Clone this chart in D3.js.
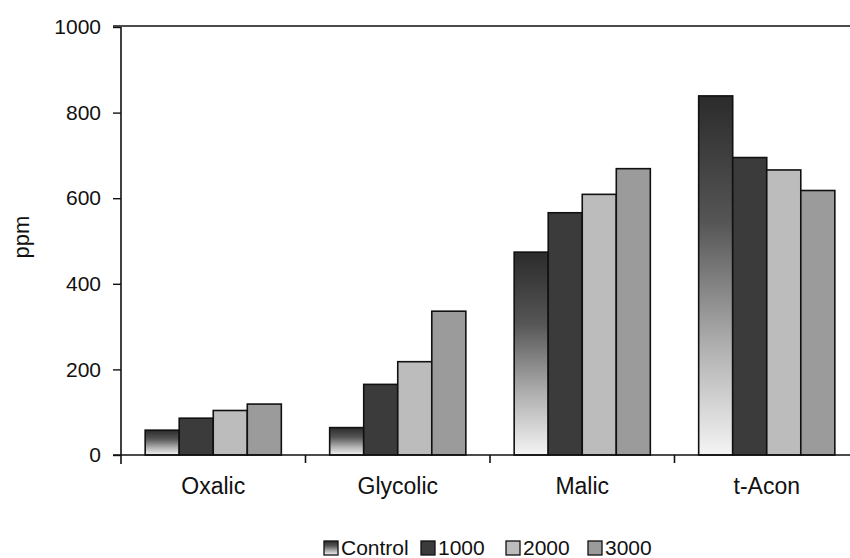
<!DOCTYPE html>
<html>
<head>
<meta charset="utf-8">
<script src="https://cdn.jsdelivr.net/npm/d3@7"></script>
<style>
  html, body { margin: 0; padding: 0; background: #ffffff; }
  svg { display: block; font-family: "Liberation Sans", Arial, sans-serif; }
</style>
</head>
<body>
<svg id="chart" width="850" height="558"></svg>
<script>
// Organic acid concentrations (ppm) by treatment
const categories = ["Oxalic", "Glycolic", "Malic", "t-Acon"];
const seriesNames = ["Control", "1000", "2000", "3000"];
const controlValues = [58, 64, 474, 839];
const values1000 = [86, 165, 566, 695];
const values2000 = [104, 218, 609, 666];
const values3000 = [119, 336, 669, 618];
const yTicks = [0, 200, 400, 600, 800, 1000];
const yLabel = "ppm";

const seriesValues = [controlValues, values1000, values2000, values3000];

const svg = d3.select("#chart");
const W = 850, H = 558;
const margin = { left: 121, top: 27 };
const plotBottom = 455;

// gradient used by the control series
const defs = svg.append("defs");
const grad = defs.append("linearGradient")
  .attr("id", "ctrlGrad").attr("x1", 0).attr("y1", 0).attr("x2", 0).attr("y2", 1);
grad.append("stop").attr("offset", "0%").attr("stop-color", "#2b2b2b");
grad.append("stop").attr("offset", "35%").attr("stop-color", "#555555");
grad.append("stop").attr("offset", "70%").attr("stop-color", "#b0b0b0");
grad.append("stop").attr("offset", "100%").attr("stop-color", "#f4f4f4");

const fills = ["url(#ctrlGrad)", "#3b3b3b", "#bcbcbc", "#9b9b9b"];

const x0 = d3.scaleBand()
  .domain(categories)
  .range([margin.left, margin.left + 4 * 184.5])
  .paddingInner(0).paddingOuter(0);

const x1 = d3.scaleBand()
  .domain(seriesNames)
  .range([0, x0.bandwidth()])
  .paddingOuter(0.71).paddingInner(0);

const y = d3.scaleLinear().domain([0, 1000]).range([plotBottom, margin.top]);

// top border of the plot
svg.append("line")
  .attr("x1", 113).attr("x2", W).attr("y1", y(1000) - 1).attr("y2", y(1000) - 1)
  .attr("stroke", "#111").attr("stroke-width", 1.6);

// bars
const groups = svg.append("g").selectAll("g")
  .data(categories)
  .join("g")
  .attr("transform", d => `translate(${x0(d)},0)`);

groups.selectAll("rect")
  .data((c, ci) => seriesNames.map((s, si) => ({ s, si, v: seriesValues[si][ci] })))
  .join("rect")
  .attr("x", d => x1(d.s))
  .attr("width", x1.bandwidth())
  .attr("y", d => y(d.v))
  .attr("height", d => y(0) - y(d.v))
  .attr("fill", d => fills[d.si])
  .attr("stroke", "#111")
  .attr("stroke-width", 1.6);

// y axis
const yAxis = d3.axisLeft(y).tickValues(yTicks).tickSize(8).tickPadding(12).tickFormat(d3.format("d"));
const gy = svg.append("g").attr("transform", `translate(${margin.left},0)`).call(yAxis);
gy.select(".domain").attr("stroke", "#111").attr("stroke-width", 1.6).attr("d", `M0,${y(1000)}V${y(0) + 9}`);
gy.selectAll(".tick line").attr("stroke", "#111").attr("stroke-width", 1.4);
gy.selectAll(".tick text").attr("font-size", 21).attr("fill", "#111")
  .attr("font-family", "'Liberation Sans', Arial, sans-serif");

// x axis
const xAxis = d3.axisBottom(x0).tickSize(0).tickPadding(23);
const gx = svg.append("g").attr("transform", `translate(0,${plotBottom})`).call(xAxis);
gx.select(".domain").attr("stroke", "#111").attr("stroke-width", 1.6).attr("d", `M113,0H${W}`);
gx.selectAll(".tick text").attr("font-size", 23).attr("fill", "#111")
  .attr("font-family", "'Liberation Sans', Arial, sans-serif");

// category separator ticks
svg.append("g").selectAll("line")
  .data(categories.slice(1))
  .join("line")
  .attr("x1", d => x0(d)).attr("x2", d => x0(d))
  .attr("y1", plotBottom).attr("y2", plotBottom + 8)
  .attr("stroke", "#111").attr("stroke-width", 1.6);

// y label
svg.append("text")
  .attr("transform", `translate(29,${(y(400) + y(600)) / 2 - 4}) rotate(-90)`)
  .attr("text-anchor", "middle")
  .attr("font-size", 22).attr("fill", "#111")
  .text(yLabel);

// legend
const legendX = [324, 421, 506, 588];
const legend = svg.append("g").selectAll("g")
  .data(seriesNames)
  .join("g")
  .attr("transform", (d, i) => `translate(${legendX[i]},541)`);
legend.append("rect")
  .attr("width", 14).attr("height", 14)
  .attr("fill", (d, i) => fills[i])
  .attr("stroke", "#111").attr("stroke-width", 1.3);
legend.append("text")
  .attr("x", 17).attr("y", 14)
  .attr("font-size", 21).attr("fill", "#111")
  .text(d => d);
</script>
</body>
</html>
